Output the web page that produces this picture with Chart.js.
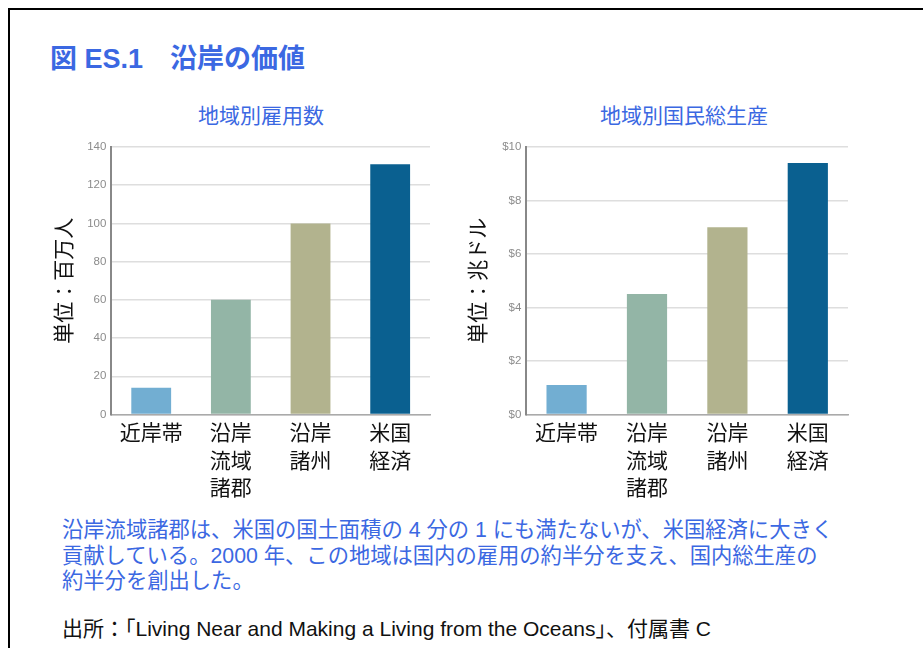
<!DOCTYPE html>
<html lang="ja">
<head>
<meta charset="utf-8">
<script src="https://cdn.jsdelivr.net/npm/chart.js@4.4.1/dist/chart.umd.min.js"></script>
<style>
  body { margin: 0; background: #fff; width: 923px; height: 648px; overflow: hidden;
         font-family: "Liberation Sans", "Noto Sans CJK JP", sans-serif; }
  .frame { position: absolute; left: 8px; top: 8px; right: 0; bottom: 0;
           border-top: 2px solid #000; border-left: 2px solid #000; }
  .fig-title { position: absolute; left: 50px; top: 37px; font-size: 27px; font-weight: bold; color: #3b68e2; white-space: pre; }
  .sub { position: absolute; top: 99px; width: 300px; text-align: center; font-size: 21px; color: #3b68e2; }
  .box { position: absolute; top: 133px; height: 372px; }
  .note { position: absolute; left: 62px; top: 518px; font-size: 21.3px; line-height: 25.7px; color: #3b68e2; }
  .src { position: absolute; left: 62px; top: 612px; font-size: 21px; color: #111; }
</style>
</head>
<body>
<div class="frame"></div>
<div class="fig-title">図 ES.1　沿岸の価値</div>
<div class="sub" style="left:111px">地域別雇用数</div>
<div class="sub" style="left:534px">地域別国民総生産</div>
<div class="box" style="left:40px; width:402px"><canvas id="jobsChart"></canvas></div>
<div class="box" style="left:460px; width:400px"><canvas id="gnpChart"></canvas></div>
<div class="note">沿岸流域諸郡は、米国の国土面積の 4 分の 1 にも満たないが、米国経済に大きく<br>貢献している。2000 年、この地域は国内の雇用の約半分を支え、国内総生産の<br>約半分を創出した。</div>
<div class="src">出所：「Living Near and Making a Living from the Oceans」、付属書 C</div>

<script>
const categories = [['近岸帯'], ['沿岸', '流域', '諸郡'], ['沿岸', '諸州'], ['米国', '経済']];
const jobs = [14, 60, 100, 131];     // 百万人
const gnp = [1.1, 4.5, 7.0, 9.4];    // 兆ドル
const barColors = ['#72aed2', '#93b5a6', '#b2b38e', '#0a6090'];

Chart.defaults.font.family = '"Liberation Sans", "Noto Sans CJK JP", sans-serif';
Chart.defaults.animation = false;

function barOptions(yTitle, max, step, fmt, titlePad) {
    return {
        responsive: true,
        maintainAspectRatio: false,
        layout: { padding: { top: 14, right: 12, bottom: 0, left: 0 } },
        plugins: { legend: { display: false }, tooltip: { enabled: false } },
        scales: {
            x: {
                grid: { display: false, drawTicks: false },
                border: { color: '#aaa', width: 1.5 },
                ticks: {
                    padding: 4,
                    color: '#111',
                    font: { family: '"Noto Sans CJK JP", sans-serif', size: 21, lineHeight: 1.31 }
                }
            },
            y: {
                min: 0,
                max: max,
                grid: { color: '#dedede', lineWidth: 1.5, drawTicks: false },
                border: { color: '#888', width: 2 },
                ticks: {
                    stepSize: step,
                    padding: 5,
                    color: '#8c8c8c',
                    font: { size: 11.5 },
                    callback: fmt
                },
                title: {
                    display: true,
                    text: yTitle,
                    color: '#111',
                    padding: titlePad,
                    font: { family: '"Noto Sans CJK JP", sans-serif', size: 21 }
                }
            }
        }
    };
}

new Chart(document.getElementById('jobsChart').getContext('2d'), {
    type: 'bar',
    data: {
        labels: categories,
        datasets: [{
            data: jobs,
            backgroundColor: barColors,
            barPercentage: 0.5,
            categoryPercentage: 1
        }]
    },
    options: barOptions('単位：百万人', 140, 20, v => v, { top: 10, bottom: 7 })
});

new Chart(document.getElementById('gnpChart').getContext('2d'), {
    type: 'bar',
    data: {
        labels: categories,
        datasets: [{
            data: gnp,
            backgroundColor: barColors,
            barPercentage: 0.5,
            categoryPercentage: 1
        }]
    },
    options: barOptions('単位：兆ドル', 10, 2, v => '$' + v, { top: 4, bottom: 8 })
});
</script>
</body>
</html>
